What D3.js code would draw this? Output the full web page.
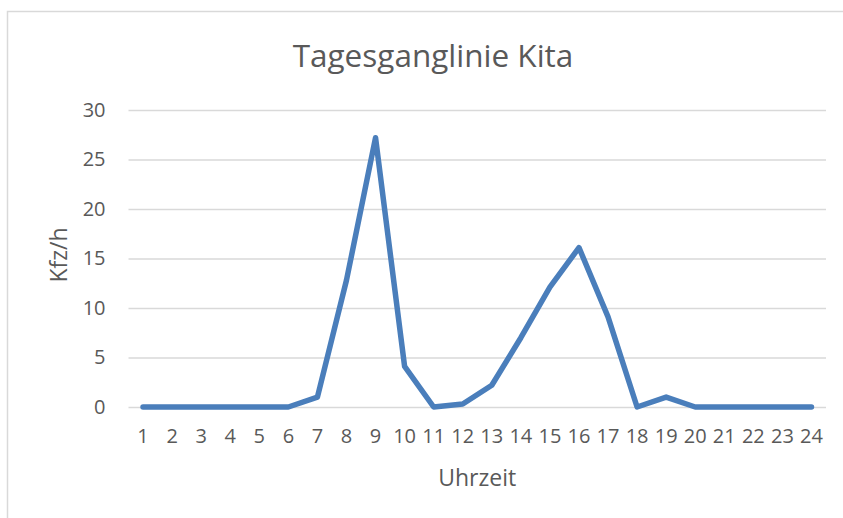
<!DOCTYPE html>
<html>
<head>
<meta charset="utf-8">
<script src="https://cdn.jsdelivr.net/npm/d3@7"></script>
<style>
  html, body { margin: 0; padding: 0; background: #fff; }
  svg { display: block; font-family: "Open Sans", "Noto Sans", sans-serif; }
</style>
</head>
<body>
<div id="chart"></div>
<script>
const hours = ["1","2","3","4","5","6","7","8","9","10","11","12","13","14","15","16","17","18","19","20","21","22","23","24"]
const kfz = [0, 0, 0, 0, 0, 0, 1, 12.8, 27.2, 4.1, 0, 0.3, 2.2, 7, 12.1, 16.1, 9.1, 0, 1, 0, 0, 0, 0, 0]
const yTicks = [0, 5, 10, 15, 20, 25, 30]
const title = "Tagesganglinie Kita"
const xTitle = "Uhrzeit"
const yTitle = "Kfz/h"

const W = 843, H = 518
const margin = { top: 110, right: 17, bottom: 111, left: 128.5 }
const width = W - margin.left - margin.right,
      height = H - margin.top - margin.bottom

const root = d3.select("#chart").append("svg")
    .attr("width", W)
    .attr("height", H)

// chart area border (cut off at right / bottom like the screenshot)
root.append("rect")
    .attr("x", 7.5).attr("y", 11.5)
    .attr("width", 900).attr("height", 600)
    .attr("fill", "none")
    .attr("stroke", "#d9d9d9")
    .attr("stroke-width", 1.5)

root.append("text")
    .attr("x", 433).attr("y", 67)
    .attr("text-anchor", "middle")
    .attr("fill", "#595959")
    .style("font-size", "31.5px")
    .text(title)

const svg = root.append("g")
    .attr("transform", `translate(${margin.left}, ${margin.top})`)

/* scales */
const x = d3.scaleBand().domain(hours).range([0, width])
const y = d3.scaleLinear().domain([0, 30]).range([height, 0])

/* gridlines + y labels */
const yAxis = svg.append("g")
    .call(d3.axisLeft(y).tickValues(yTicks).tickSize(-width).tickPadding(23))
yAxis.select(".domain").remove()
yAxis.selectAll("line").attr("stroke", "#d9d9d9").attr("stroke-width", 1.3)
yAxis.selectAll("text").attr("fill", "#595959").style("font-size", "20px")
    .style("font-family", "'Open Sans', sans-serif")

/* x axis labels */
const xAxis = svg.append("g")
    .attr("transform", `translate(0, ${height})`)
    .call(d3.axisBottom(x).tickSize(0).tickPadding(22))
xAxis.select(".domain").remove()
xAxis.selectAll("text").attr("fill", "#595959").style("font-size", "20px")
    .style("font-family", "'Open Sans', sans-serif")

/* axis titles */
root.append("text")
    .attr("x", margin.left + width / 2).attr("y", 486)
    .attr("text-anchor", "middle")
    .attr("fill", "#595959")
    .style("font-size", "23px")
    .text(xTitle)

root.append("text")
    .attr("transform", "translate(67, 255) rotate(-90)")
    .attr("text-anchor", "middle")
    .attr("fill", "#595959")
    .style("font-size", "23px")
    .text(yTitle)

/* line */
const line = d3.line()
    .x((d, i) => x(hours[i]) + x.bandwidth() / 2)
    .y(d => y(d))

svg.append("path")
    .datum(kfz)
    .attr("d", line)
    .attr("fill", "none")
    .attr("stroke", "#4a7ebb")
    .attr("stroke-width", 5.5)
    .attr("stroke-linejoin", "round")
    .attr("stroke-linecap", "round")
</script>
</body>
</html>
